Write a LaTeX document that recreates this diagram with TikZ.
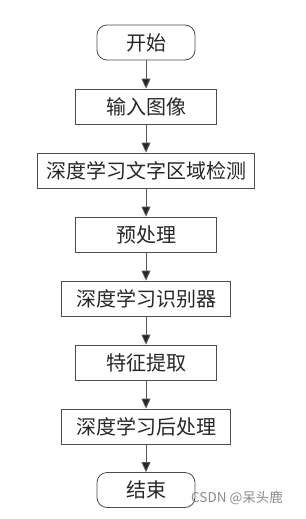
\documentclass[tikz,border=0pt]{standalone}
\usepackage{fontspec}
\newfontfamily\cjk{Noto Sans CJK SC}
\usetikzlibrary{arrows.meta}
\begin{document}
\begin{tikzpicture}[x=1pt,y=-1pt,
  box/.style={draw=black!70, line width=0.8pt, minimum height=35pt, inner sep=0pt, font=\cjk\fontsize{20}{20}\selectfont, text=black!85},
  term/.style={box, rounded corners=10pt},
  arr/.style={draw=black!65, line width=0.8pt, -{Triangle[width=9pt,length=10pt,fill=black!85]}}]
\useasboundingbox (0,0) rectangle (305,519);
\node[term, minimum width=98pt] (s) at (146,42.5) {开始};
\node[box, minimum width=141pt] (a) at (146,106.5) {输入图像};
\node[box, minimum width=217pt] (b) at (146,170.5) {深度学习文字区域检测};
\node[box, minimum width=141pt] (c) at (146,234.5) {预处理};
\node[box, minimum width=169pt] (d) at (146,298.5) {深度学习识别器};
\node[box, minimum width=141pt] (e) at (146,362.5) {特征提取};
\node[box, minimum width=169pt] (f) at (146,426.5) {深度学习后处理};
\node[term, minimum width=98pt] (g) at (146,490) {结束};
\draw[arr] (s) -- (a);
\draw[arr] (a) -- (b);
\draw[arr] (b) -- (c);
\draw[arr] (c) -- (d);
\draw[arr] (d) -- (e);
\draw[arr] (e) -- (f);
\draw[arr] (f) -- (g);
\node[font=\cjk\fontsize{13.5}{13.5}\selectfont, text=black!45, anchor=west, inner sep=0pt] (w) at (191,498) {CSDN @呆头鹿};
\end{tikzpicture}
\end{document}
